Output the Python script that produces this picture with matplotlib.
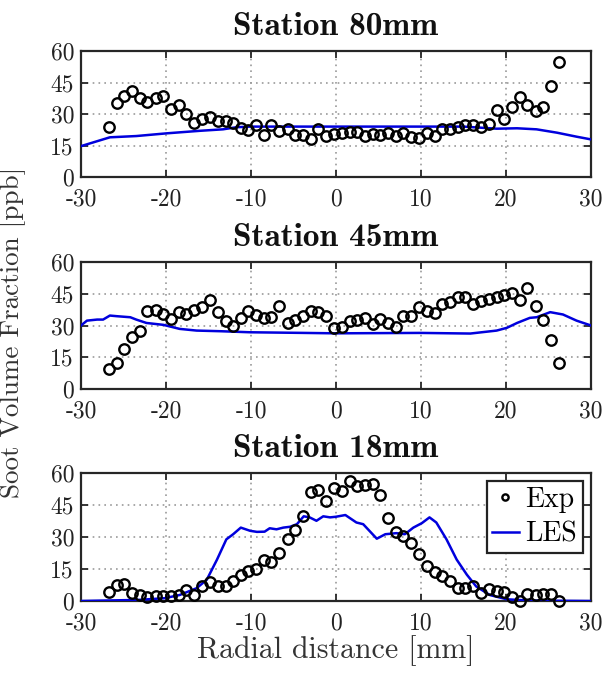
import matplotlib
matplotlib.use('Agg')
import matplotlib.pyplot as plt

plt.rcParams['font.family'] = ['cmr10', 'DejaVu Serif']
plt.rcParams['mathtext.fontset'] = 'cm'
plt.rcParams['axes.unicode_minus'] = False
plt.rcParams['axes.formatter.use_mathtext'] = False

# ---- data ----
radial_exp = [-26.7, -25.8, -24.9, -24.0, -23.1, -22.2, -21.2, -20.3, -19.4, -18.5,
              -17.6, -16.7, -15.8, -14.8, -13.9, -13.0, -12.1, -11.2, -10.3, -9.4,
              -8.5, -7.6, -6.7, -5.7, -4.8, -3.9, -3.0, -2.1, -1.2, -0.2,
              0.7, 1.6, 2.5, 3.4, 4.3, 5.2, 6.1, 7.0, 7.9, 8.8,
              9.8, 10.7, 11.6, 12.5, 13.4, 14.3, 15.2, 16.1, 17.1, 18.0,
              18.9, 19.8, 20.7, 21.6, 22.5, 23.5, 24.4, 25.3, 26.2]

exp_80 = [24.0, 35.2, 38.7, 41.1, 37.4, 35.8, 37.4, 38.7, 32.5, 34.1,
          30.1, 25.9, 27.5, 28.8, 26.7, 26.7, 25.6, 23.2, 22.4, 24.6,
          20.2, 24.6, 22.1, 23.0, 19.8, 19.8, 17.9, 23.0, 19.5, 20.5,
          21.1, 21.4, 21.4, 19.5, 20.6, 19.8, 21.1, 19.5, 20.8, 19.0,
          18.7, 20.8, 19.5, 22.7, 23.0, 23.7, 24.8, 24.8, 23.7, 25.1,
          31.7, 27.5, 33.4, 38.1, 34.2, 31.4, 33.1, 43.2, 55.0]

exp_45 = [9.3, 12.1, 19.0, 24.5, 27.5, 36.9, 37.5, 35.5, 33.1, 36.6,
          35.5, 37.5, 38.6, 41.9, 36.3, 32.3, 30.0, 33.6, 36.9, 35.0,
          33.6, 34.1, 39.1, 31.1, 32.7, 34.7, 36.9, 36.6, 34.7, 28.6,
          29.2, 32.0, 32.5, 33.6, 30.6, 33.1, 31.2, 29.2, 34.4, 34.4,
          38.6, 36.7, 36.0, 40.3, 41.1, 43.3, 43.3, 40.3, 41.4, 42.7,
          43.3, 44.3, 45.2, 42.2, 47.7, 39.4, 32.8, 23.1, 12.2]

exp_18 = [4.4, 7.6, 8.1, 3.9, 2.7, 1.9, 2.4, 2.5, 2.4, 2.8,
          5.2, 2.8, 6.8, 8.8, 7.1, 6.8, 9.2, 12.2, 14.2, 15.0,
          19.4, 18.2, 22.6, 29.2, 33.2, 39.7, 51.3, 52.1, 46.8, 52.9,
          51.5, 56.2, 53.9, 54.5, 54.8, 49.8, 38.7, 32.4, 30.5, 27.3,
          22.1, 16.6, 13.4, 11.5, 9.2, 6.2, 6.0, 7.1, 3.6, 5.5,
          4.7, 4.4, 2.1, 0.0, 3.2, 2.8, 3.2, 3.2, 0.0]

les_80_x = [-30, -26.6, -23.5, -19.9, -16.0, -13.3, -11.7, -10.1, -5.0, 0.0,
            5.0, 10.0, 15.0, 18.9, 21.3, 23.6, 26.0, 28.3, 30.0]
les_80_y = [14.7, 18.9, 19.5, 20.8, 22.0, 22.7, 23.7, 24.0, 24.0, 24.0,
            24.0, 24.0, 24.0, 23.0, 23.2, 22.7, 21.1, 19.2, 17.9]

les_45_x = [-30.0, -29.3, -28.1, -27.4, -26.6, -25.8, -24.2, -23.5, -22.3, -20.3,
            -18.4, -16.4, -13.6, -10.1, -3.8, 0.0, 9.9, 15.8, 18.9, 20.1,
            21.3, 22.8, 23.6, 25.2, 26.7, 28.3, 30.0]
les_45_y = [30.0, 32.3, 32.8, 32.8, 34.7, 34.4, 33.9, 32.8, 31.2, 30.3,
            28.4, 27.6, 27.3, 26.8, 26.5, 26.3, 26.5, 26.2, 27.6, 28.9,
            31.2, 33.6, 33.9, 36.3, 35.2, 32.3, 30.0]

les_18_x = [-30.0, -23.3, -20.2, -18.4, -16.4, -15.2, -14.0, -12.9, -12.1, -11.2,
            -10.1, -9.3, -8.4, -7.8, -7.0, -6.2, -5.4, -4.6, -3.8, -3.1,
            -2.3, -1.5, -0.7, 0.0, 1.1, 2.4, 3.2, 4.8, 5.8, 7.1,
            8.1, 9.1, 10.1, 11.0, 11.8, 13.0, 14.2, 15.4, 16.5, 18.1,
            20.1, 22.8, 30.0]
les_18_y = [0.0, 0.5, 1.3, 2.8, 6.0, 10.0, 19.4, 28.9, 31.3, 34.4,
            32.9, 32.4, 32.5, 34.1, 33.6, 34.4, 34.8, 36.0, 39.7, 39.2,
            37.6, 39.7, 39.2, 39.5, 40.3, 36.8, 36.0, 29.2, 31.3, 31.8,
            31.3, 34.4, 36.5, 39.2, 36.8, 28.9, 19.4, 12.3, 6.8, 2.8,
            0.8, 0.2, 0.0]

titles = ['Station 80mm', 'Station 45mm', 'Station 18mm']
x_ticks = [-30, -20, -10, 0, 10, 20, 30]
y_ticks = [0, 15, 30, 45, 60]

panels = [(exp_80, les_80_x, les_80_y),
          (exp_45, les_45_x, les_45_y),
          (exp_18, les_18_x, les_18_y)]

# ---- figure ----
W, H = 606, 675
fig = plt.figure(figsize=(W / 100, H / 100), dpi=100)
left, right = 81 / W, 591 / W
tops = [51, 262, 473]
bottoms = [177, 389, 601]

line_col = '#262626'
for i, (exp_y, lx, ly) in enumerate(panels):
    ax = fig.add_axes([left, 1 - bottoms[i] / H, right - left, (bottoms[i] - tops[i]) / H])
    ax.plot(lx, ly, color='#0000dd', lw=1.8, label='LES', zorder=3)
    ax.plot(radial_exp, exp_y, 'o', mfc='none', mec='black', ms=7.5, mew=1.7,
            label='Exp', clip_on=False, zorder=4)
    ax.set_xlim(-30, 30)
    ax.set_ylim(0, 60)
    ax.set_xticks(x_ticks)
    ax.set_yticks(y_ticks)
    ax.grid(True, linestyle=(0, (1, 2.5)), color='#9a9a9a', lw=1.2)
    ax.set_axisbelow(True)
    ax.tick_params(direction='in', top=True, right=True, length=5, width=1.3,
                   labelsize=17, colors=line_col, labelcolor='#222222')
    ax.tick_params(axis='x', pad=8)
    ax.tick_params(axis='y', pad=5)
    for sp in ax.spines.values():
        sp.set_linewidth(1.6)
        sp.set_color(line_col)
    ax.set_title(titles[i], fontfamily='cmb10', fontsize=24, pad=11.5, color='#111111')
    if i == 2:
        ax.set_xlabel('Radial distance [mm]', fontsize=21.5, labelpad=1, color='#333333')
        h, l = ax.get_legend_handles_labels()
        leg = ax.legend([h[1], h[0]], [l[1], l[0]], loc='upper right', fontsize=20,
                        fancybox=False, framealpha=1, edgecolor='#222222',
                        borderaxespad=0.3, borderpad=0.2, handlelength=0.95,
                        handletextpad=0.25, labelspacing=0.3, markerscale=0.6)
        leg.get_frame().set_linewidth(1.6)

fig.text(13 / W, 1 - 332 / H, 'Soot Volume Fraction [ppb]', rotation=90,
         ha='center', va='center', fontsize=19.5, color='#333333')

fig.savefig('out.png', dpi=100)
